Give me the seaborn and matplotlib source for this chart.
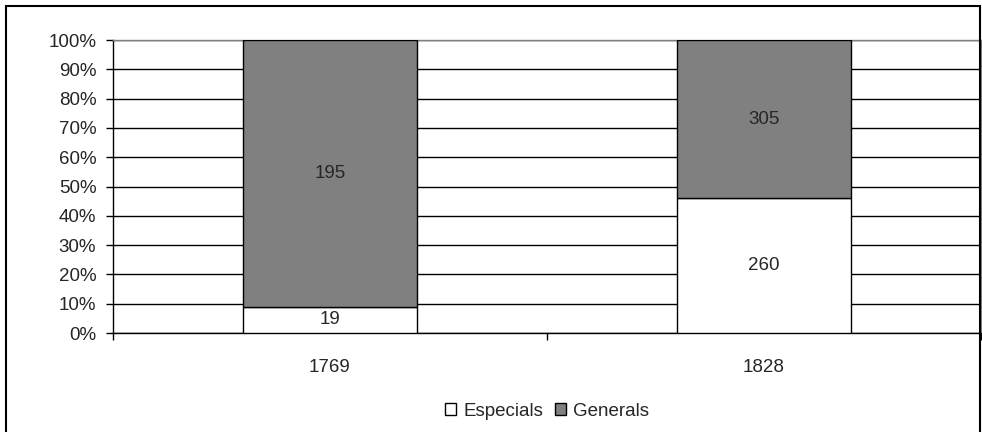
import numpy as np
import pandas as pd
import matplotlib.pyplot as plt
import seaborn as sns
from matplotlib.patches import Rectangle
from matplotlib.ticker import PercentFormatter

# Dades
anys = ['1769', '1828']
especials = [19, 260]
generals = [195, 305]
series = ['Especials', 'Generals']
colors = {'Especials': '#ffffff', 'Generals': '#808080'}

total = np.array(especials) + np.array(generals)
pct_esp = np.array(especials) / total * 100
pct_gen = np.array(generals) / total * 100

df = pd.DataFrame({'any': anys, 'Especials': pct_esp, 'Generals': pct_gen})

sns.set_style('white')
plt.rcParams['font.family'] = ['Liberation Sans', 'DejaVu Sans']
fs = 13.5

fig = plt.figure(figsize=(9.82, 4.32), dpi=100)
ax = fig.add_axes([113 / 982, 99 / 432, 868 / 982, 293 / 432])

# Generals sobre Especials (barra apilada al 100%)
sns.barplot(data=df, x='any', y='Especials', color=colors['Especials'],
            width=0.4, edgecolor='black', linewidth=1, ax=ax, zorder=3)
sns.barplot(data=df, x='any', y='Generals', bottom=df['Especials'],
            color=colors['Generals'], width=0.4, edgecolor='black',
            linewidth=1, ax=ax, zorder=3)

# Etiquetes de valors
for i in range(len(anys)):
    ax.text(i, pct_esp[i] / 2, str(especials[i]), ha='center', va='center',
            fontsize=fs, zorder=4)
    ax.text(i, pct_esp[i] + pct_gen[i] / 2, str(generals[i]), ha='center',
            va='center', fontsize=fs, zorder=4)

ax.set_ylim(0, 100)
ax.set_xlim(-0.5, 1.5)
ax.set_yticks(np.arange(0, 101, 10))
ax.yaxis.set_major_formatter(PercentFormatter(decimals=0))
ax.set_xticks([0, 1])
ax.set_xticklabels(anys)
ax.set_xticks([-0.5, 0.5, 1.5], minor=True)
ax.tick_params(axis='x', which='major', length=0, pad=19, labelsize=fs)
ax.tick_params(axis='x', which='minor', length=5, width=1, color='black',
               direction='out', bottom=True)
ax.tick_params(axis='y', length=5, width=1, color='black', direction='out',
               left=True, labelsize=fs, pad=7)
ax.set_xlabel('')
ax.set_ylabel('')

ax.yaxis.grid(True, color='black', linewidth=1, zorder=0)
ax.set_axisbelow(True)
for s in ['left', 'bottom']:
    ax.spines[s].set_color('black')
    ax.spines[s].set_linewidth(1)
for s in ['top', 'right']:
    ax.spines[s].set_color('#808080')
    ax.spines[s].set_linewidth(1)

# Llegenda
handles = [Rectangle((0, 0), 1, 1, facecolor=colors[s], edgecolor='black',
                     linewidth=1) for s in series]
fig.legend(handles, series, loc='center', bbox_to_anchor=(547 / 982, 1 - 411 / 432),
           ncol=2, frameon=False, fontsize=fs, handlelength=0.6,
           handleheight=0.6, handletextpad=0.4, columnspacing=0.6,
           borderpad=0)

# Marc exterior
fig.patches.append(Rectangle((6 / 982, -0.05), 974 / 982, 1.05 - 6 / 432,
                             transform=fig.transFigure, fill=False,
                             edgecolor='black', linewidth=1.5))

fig.savefig('out.png', dpi=100)
